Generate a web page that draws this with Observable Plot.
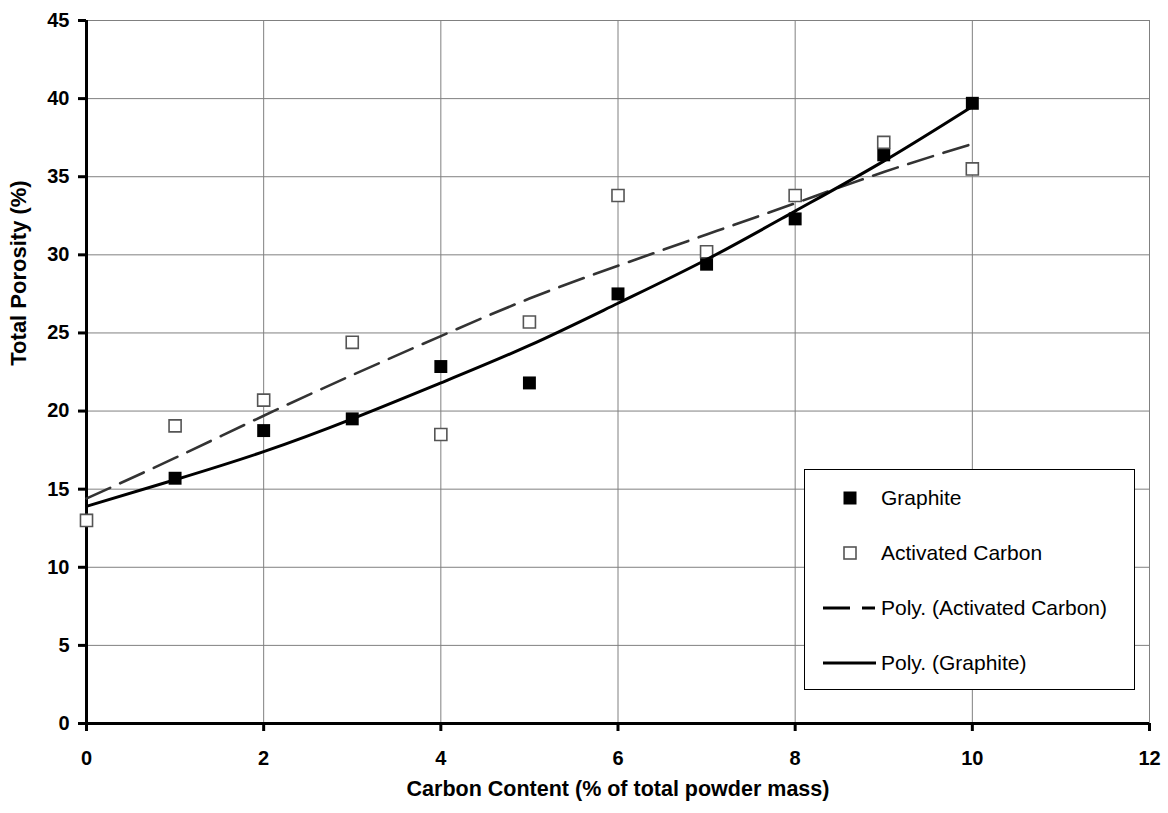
<!DOCTYPE html>
<html>
<head>
<meta charset="utf-8">
<script src="https://cdn.jsdelivr.net/npm/d3@7"></script>
<script src="https://cdn.jsdelivr.net/npm/@observablehq/plot@0.6"></script>
<style>
  body { margin: 0; background: #fff; }
  #wrap { position: relative; width: 1168px; height: 813px; font-family: "Liberation Sans", Arial, sans-serif; }
  #legend { position: absolute; left: 0; top: 0; }
</style>
</head>
<body>
<div id="wrap"></div>
<script>
const carbon = [0, 1, 2, 3, 4, 5, 6, 7, 8, 9, 10];
const graphite = [13.0, 15.7, 18.75, 19.5, 22.85, 21.8, 27.5, 29.4, 32.3, 36.4, 39.7];
const activated = [13.0, 19.05, 20.7, 24.4, 18.5, 25.7, 33.8, 30.2, 33.8, 37.2, 35.5];
const graphiteFit = [13.9, 15.6, 17.4, 19.5, 21.8, 24.2, 26.9, 29.7, 32.8, 36.0, 39.5];
const activatedFit = [14.4, 17.0, 19.7, 22.3, 24.8, 27.2, 29.3, 31.3, 33.3, 35.3, 37.1];
const xTicks = [0, 2, 4, 6, 8, 10, 12];
const yTicks = [0, 5, 10, 15, 20, 25, 30, 35, 40, 45];
const legendLabels = ["Graphite", "Activated Carbon", "Poly. (Activated Carbon)", "Poly. (Graphite)"];
const xTitle = "Carbon Content (% of total powder mass)";
const yTitle = "Total Porosity (%)";

const gData = carbon.map((c, i) => ({x: c, y: graphite[i]}));
const aData = carbon.map((c, i) => ({x: c, y: activated[i]}));
const gFit = carbon.map((c, i) => ({x: c, y: graphiteFit[i]}));
const aFit = carbon.map((c, i) => ({x: c, y: activatedFit[i]}));

const font = '"Liberation Sans", Arial, sans-serif';

const chart = Plot.plot({
  width: 1168,
  height: 813,
  marginLeft: 86,
  marginRight: 19,
  marginTop: 20,
  marginBottom: 90,
  style: {fontFamily: font, background: "#fff", color: "#000"},
  x: {domain: [0, 12], ticks: xTicks},
  y: {domain: [0, 45], ticks: yTicks},
  marks: [
    Plot.gridX(xTicks, {stroke: "#808080", strokeOpacity: 1, strokeWidth: 1}),
    Plot.gridY(yTicks, {stroke: "#808080", strokeOpacity: 1, strokeWidth: 1}),
    Plot.axisX(xTicks, {tickSize: 8, tickPadding: 19, strokeWidth: 3, fontSize: 20, fontWeight: "bold", label: null, fill: "#000"}),
    Plot.axisY(yTicks, {tickSize: 8, tickPadding: 9, strokeWidth: 3, fontSize: 20, fontWeight: "bold", label: null, fill: "#000"}),
    Plot.ruleX([0], {stroke: "#000", strokeWidth: 3}),
    Plot.ruleY([0], {stroke: "#000", strokeWidth: 3}),
    Plot.dot(gData, {x: "x", y: "y", symbol: "square", r: 7.3, fill: "#000", stroke: "none"}),
    Plot.dot(aData, {x: "x", y: "y", symbol: "square", r: 6.8, fill: "#fff", stroke: "#555", strokeWidth: 1.6}),
    Plot.line(aFit, {x: "x", y: "y", curve: "natural", stroke: "#333", strokeWidth: 2.6, strokeDasharray: "26,11"}),
    Plot.line(gFit, {x: "x", y: "y", curve: "natural", stroke: "#000", strokeWidth: 3}),
    Plot.text([xTitle], {frameAnchor: "bottom", dy: 72, fontSize: 21.5, fontWeight: "bold", fill: "#000"}),
    Plot.text([yTitle], {frameAnchor: "left", textAnchor: "middle", dx: -68, dy: -99, rotate: -90, fontSize: 22, fontWeight: "bold", fill: "#000"})
  ]
});
document.getElementById("wrap").appendChild(chart);

// Legend overlay
const lg = d3.select("#wrap").append("svg")
  .attr("id", "legend")
  .attr("width", 1168).attr("height", 813)
  .style("pointer-events", "none");
const box = {x: 804, y: 469, w: 330, h: 220};
lg.append("rect").attr("x", box.x + 0.5).attr("y", box.y + 0.5)
  .attr("width", box.w).attr("height", box.h)
  .attr("fill", "#fff").attr("stroke", "#000").attr("stroke-width", 1);
const rowY = i => box.y + 29 + i * 55;
legendLabels.forEach((t, i) => {
  const y = rowY(i);
  if (i === 0) lg.append("rect").attr("x", 850 - 6.5).attr("y", y - 6.5).attr("width", 13).attr("height", 13).attr("fill", "#000");
  if (i === 1) lg.append("rect").attr("x", 850 - 6).attr("y", y - 6).attr("width", 12).attr("height", 12).attr("fill", "#fff").attr("stroke", "#555").attr("stroke-width", 1.6);
  if (i === 2) lg.append("line").attr("x1", 823).attr("x2", 875).attr("y1", y).attr("y2", y).attr("stroke", "#000").attr("stroke-width", 3).attr("stroke-dasharray", "27,12");
  if (i === 3) lg.append("line").attr("x1", 823).attr("x2", 876).attr("y1", y).attr("y2", y).attr("stroke", "#000").attr("stroke-width", 3);
  lg.append("text").attr("x", 881).attr("y", y).attr("dy", "0.35em")
    .attr("font-family", font).attr("font-size", 21).attr("fill", "#000").text(t);
});
</script>
</body>
</html>
